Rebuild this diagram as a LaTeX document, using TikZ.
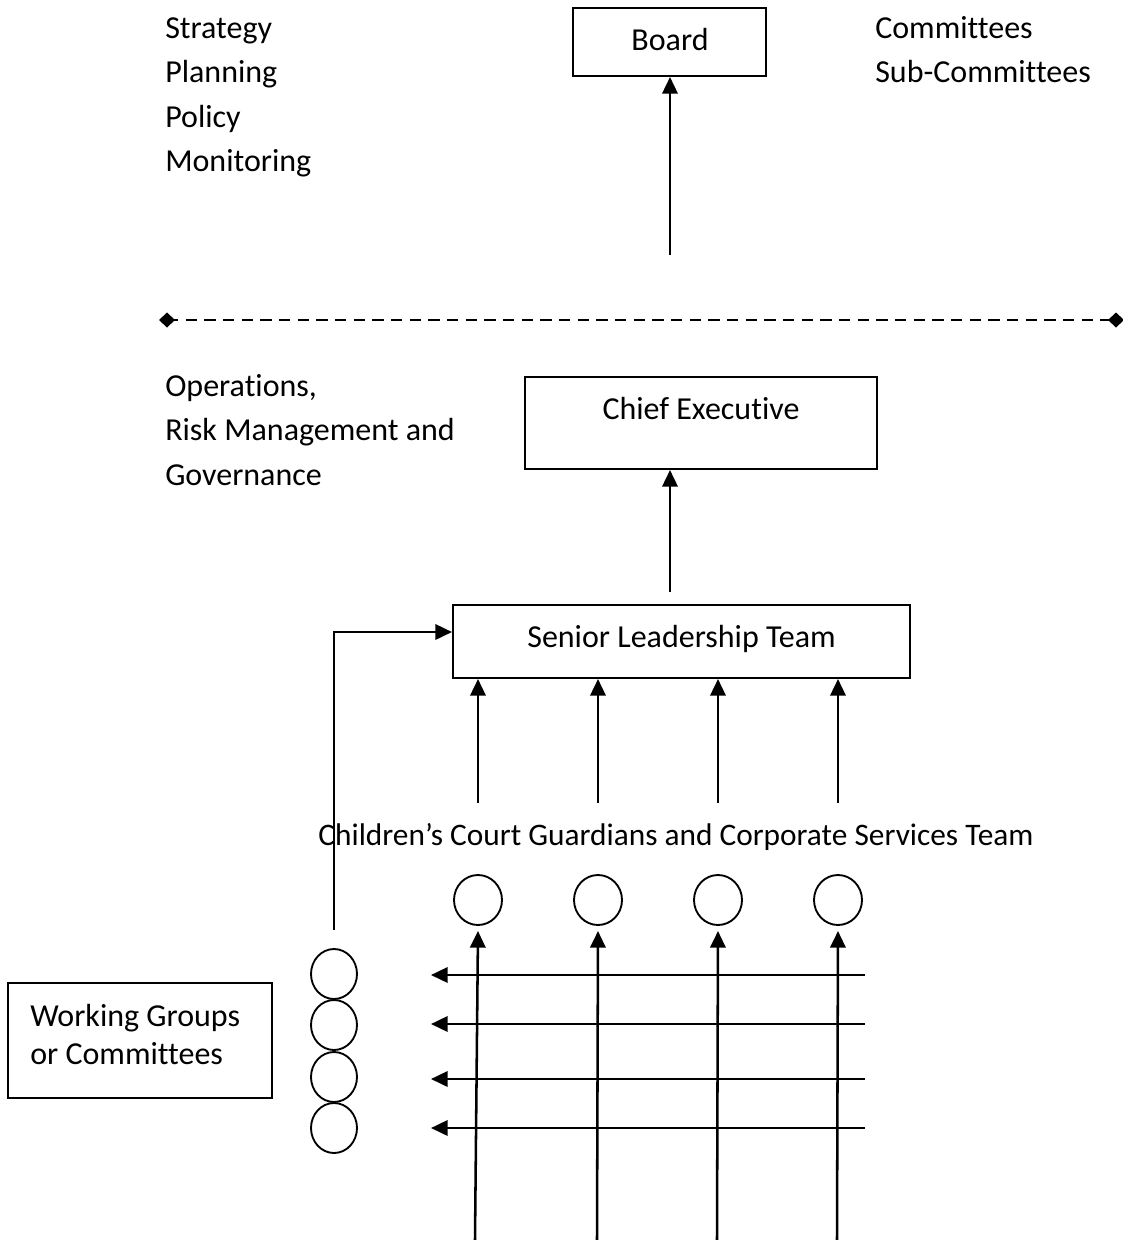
\documentclass[tikz,border=0pt]{standalone}
\usepackage{fontspec}
\setmainfont{Carlito}[Ligatures=NoCommon,RawFeature={-liga;-clig;-calt}]
\usetikzlibrary{arrows.meta,shapes.geometric}
\begin{document}
\begin{tikzpicture}[x=0.75pt,y=-0.75pt,
  font=\fontsize{24}{33.5}\selectfont,
  txt/.style={inner sep=0pt,anchor=base west},
  ctxt/.style={inner sep=0pt,anchor=base},
  box/.style={draw,line width=1.5pt,inner sep=0pt},
  circ/.style={draw,line width=1.4pt,ellipse,inner sep=0pt,minimum width={46*0.75pt},minimum height={50*0.75pt}},
  conn/.style={line width=1.9pt,-{Triangle[length=12.5pt,width=11.5pt]}},
  plain/.style={line width=1.9pt}]
\useasboundingbox (0,0) rectangle (1123,1240);
% top
\node[txt] (s1) at (165,38) {Strategy};
\node[txt] (s2) at (165,82) {Planning};
\node[txt] (s3) at (165,127) {Policy};
\node[txt] (s4) at (165,171) {Monitoring};
\node[txt] (c1) at (875,38) {Committees};
\node[txt] (c2) at (875,82) {Sub-Committees};
\node[box,minimum width={193*0.75pt},minimum height={68*0.75pt}] (board) at (669.5,42) {};
\node[ctxt] (boardt) at (670,50) {Board};
\coordinate (ba) at (670,255);
\draw[conn] (ba) -- (ba |- board.south);
% dashed line
\coordinate (dl) at (167,320);
\coordinate (dr) at (1116,320);
\draw[line width=2pt,dash pattern=on 8.5pt off 5.5pt] (dl) -- (dr);
\fill (dl) +(-8,0) -- +(0,-7.5) -- +(8,0) -- +(0,7.5) -- cycle;
\fill (dr) +(-8,0) -- +(0,-7.5) -- +(8,0) -- +(0,7.5) -- cycle;
% operations
\node[txt] (o1) at (165,396) {Operations,};
\node[txt] (o2) at (165,440) {Risk Management and};
\node[txt] (o3) at (165,485) {Governance};
\node[box,minimum width={352*0.75pt},minimum height={92*0.75pt}] (ce) at (701,423) {};
\node[ctxt] (cet) at (701,419) {Chief Executive};
\coordinate (ca) at (670,592);
\draw[conn] (ca) -- (ca |- ce.south);
\node[box,minimum width={457*0.75pt},minimum height={73*0.75pt}] (slt) at (681.5,641.5) {};
\node[ctxt] (sltt) at (681.5,647) {Senior Leadership Team};
\foreach \x [count=\i] in {478,598,718,838}{
  \coordinate (sa\i) at (\x,803);
  \draw[conn] (sa\i) -- (sa\i |- slt.south);
}
\node[ctxt,font=\fontsize{23.5}{33.5}\selectfont] (team) at (676,845) {Children’s Court Guardians and Corporate Services Team};
% top circles
\foreach \x [count=\i] in {478,598,718,838}{
  \node[circ,minimum width={48*0.75pt}] (t\i) at (\x,900) {};
}
\foreach \xb/\xt [count=\i] in {475/478,597/598,717/718,837/838}{
  \coordinate (vb\i) at (\xb,1240);
  \coordinate (vt\i) at (\xt,931);
  \draw[conn] (vb\i) -- (vt\i);
}
% left circles
\foreach \y [count=\i] in {974,1025,1077,1128}{
  \node[circ] (l\i) at (334,\y) {};
}
\foreach \y [count=\i] in {975,1024,1079,1128}{
  \coordinate (hr\i) at (865,\y);
  \coordinate (hl\i) at (431,\y);
  \draw[conn] (hr\i) -- (hl\i);
}
% elbow
\coordinate (e0) at (334,930);
\coordinate (e1) at (334,632);
\draw[conn] (e0) -- (e1) -- (e1 -| slt.west);
% working groups
\node[box,minimum width={264*0.75pt},minimum height={115*0.75pt}] (wg) at (140,1040.5) {};
\node[txt] (wg1) at (30,1026) {Working Groups};
\node[txt] (wg2) at (30,1064) {or Committees};
\end{tikzpicture}
\end{document}
